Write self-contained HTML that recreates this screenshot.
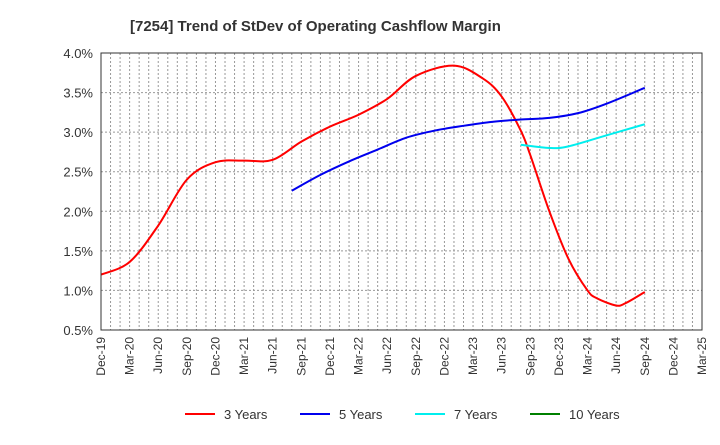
<!DOCTYPE html>
<html><head><meta charset="utf-8"><style>
body{margin:0;background:#fff;font-family:"Liberation Sans",Arial,sans-serif;}
svg text{font-family:"Liberation Sans",Arial,sans-serif;}
</style></head><body>
<svg id="c" width="720" height="440" xmlns="http://www.w3.org/2000/svg">
<text x="130" y="31" font-size="15" font-weight="bold" fill="#333">[7254]  Trend of StDev of Operating Cashflow Margin</text>
<g id="grid"></g><g id="series"></g><g id="axes"></g><g id="legend"></g>
</svg>
<script>
const xLabels=["Dec-19","Mar-20","Jun-20","Sep-20","Dec-20","Mar-21","Jun-21","Sep-21","Dec-21","Mar-22","Jun-22","Sep-22","Dec-22","Mar-23","Jun-23","Sep-23","Dec-23","Mar-24","Jun-24","Sep-24","Dec-24","Mar-25"];
const yTicks=[0.5,1.0,1.5,2.0,2.5,3.0,3.5,4.0];
const m3=[0,3,6,9,12,15,18,21,24,27,30,33,37,40,42,44,45,47,49,51,52,54,55,57];
const v3=[1.2,1.36,1.82,2.4,2.62,2.64,2.65,2.88,3.07,3.22,3.42,3.71,3.84,3.68,3.45,3.02,2.71,2.0,1.4,1.0,0.9,0.81,0.84,0.98];
const m5=[20,23,26,29,32,35,38,41,44,47,50,53,57];
const v5=[2.26,2.46,2.63,2.78,2.93,3.02,3.08,3.13,3.16,3.18,3.24,3.36,3.56];
const m7=[44,47,49,53,57];
const v7=[2.84,2.80,2.82,2.96,3.10];
const m10=[];const v10=[];
const L=101,R=702,T=53,B=330,NM=63;
const X=m=>L+(R-L)*m/NM;
const Y=v=>B-(v-0.5)/3.5*(B-T);
const NS="http://www.w3.org/2000/svg";
function mk(t,a,p){const e=document.createElementNS(NS,t);for(const k in a)e.setAttribute(k,a[k]);p.appendChild(e);return e;}
const grid=document.getElementById('grid'),axes=document.getElementById('axes'),ser=document.getElementById('series'),leg=document.getElementById('legend');
for(let m=1;m<NM;m++){const l=mk('line',{x1:X(m),x2:X(m),y1:T,y2:B,stroke:'#999','stroke-dasharray':'2,2'},grid);

}
yTicks.forEach(v=>{if(v>0.5&&v<4){const l=mk('line',{x1:L,x2:R,y1:Y(v),y2:Y(v),stroke:'#999','stroke-dasharray':'2,2'},grid);

}
const t=mk('text',{x:L-8,y:Y(v)+5,'text-anchor':'end','font-size':13,fill:'#333'},axes);t.textContent=v.toFixed(1)+'%';

});
xLabels.forEach((s,i)=>{const x=X(i*3);const t=mk('text',{transform:`translate(${x+4},${B+7}) rotate(-90)`,'text-anchor':'end','font-size':12,fill:'#333'},axes);t.textContent=s;

});
const fr=mk('rect',{x:L,y:T,width:R-L,height:B-T,fill:'none',stroke:'#333','stroke-width':1},axes);


function path(ms,vs){const p=ms.map((m,i)=>[X(m),Y(vs[i])]);if(!p.length)return '';let d=`M${p[0][0]},${p[0][1]}`;
for(let i=0;i<p.length-1;i++){const p0=p[i-1]||p[i],p1=p[i],p2=p[i+1],p3=p[i+2]||p2;
d+=`C${p1[0]+(p2[0]-p0[0])/6},${p1[1]+(p2[1]-p0[1])/6} ${p2[0]-(p3[0]-p1[0])/6},${p2[1]-(p3[1]-p1[1])/6} ${p2[0]},${p2[1]}`;}return d;}
const S=[[m3,v3,'#ff0000','3 Years','line-3-years'],[m5,v5,'#0000ee','5 Years','line-5-years'],[m7,v7,'#00eeee','7 Years','line-7-years'],[m10,v10,'#008000','10 Years','line-10-years']];
S.forEach((s,i)=>{if(s[0].length){const p=mk('path',{d:path(s[0],s[1]),fill:'none',stroke:s[2],'stroke-width':2},ser);

}
const lx=185+i*115;const g=mk('g',{},leg);


mk('line',{x1:lx,x2:lx+30,y1:414,y2:414,stroke:s[2],'stroke-width':2},g);
const t=mk('text',{x:lx+39,y:419,'font-size':13,fill:'#333'},g);t.textContent=s[3];});
</script>
</body></html>
